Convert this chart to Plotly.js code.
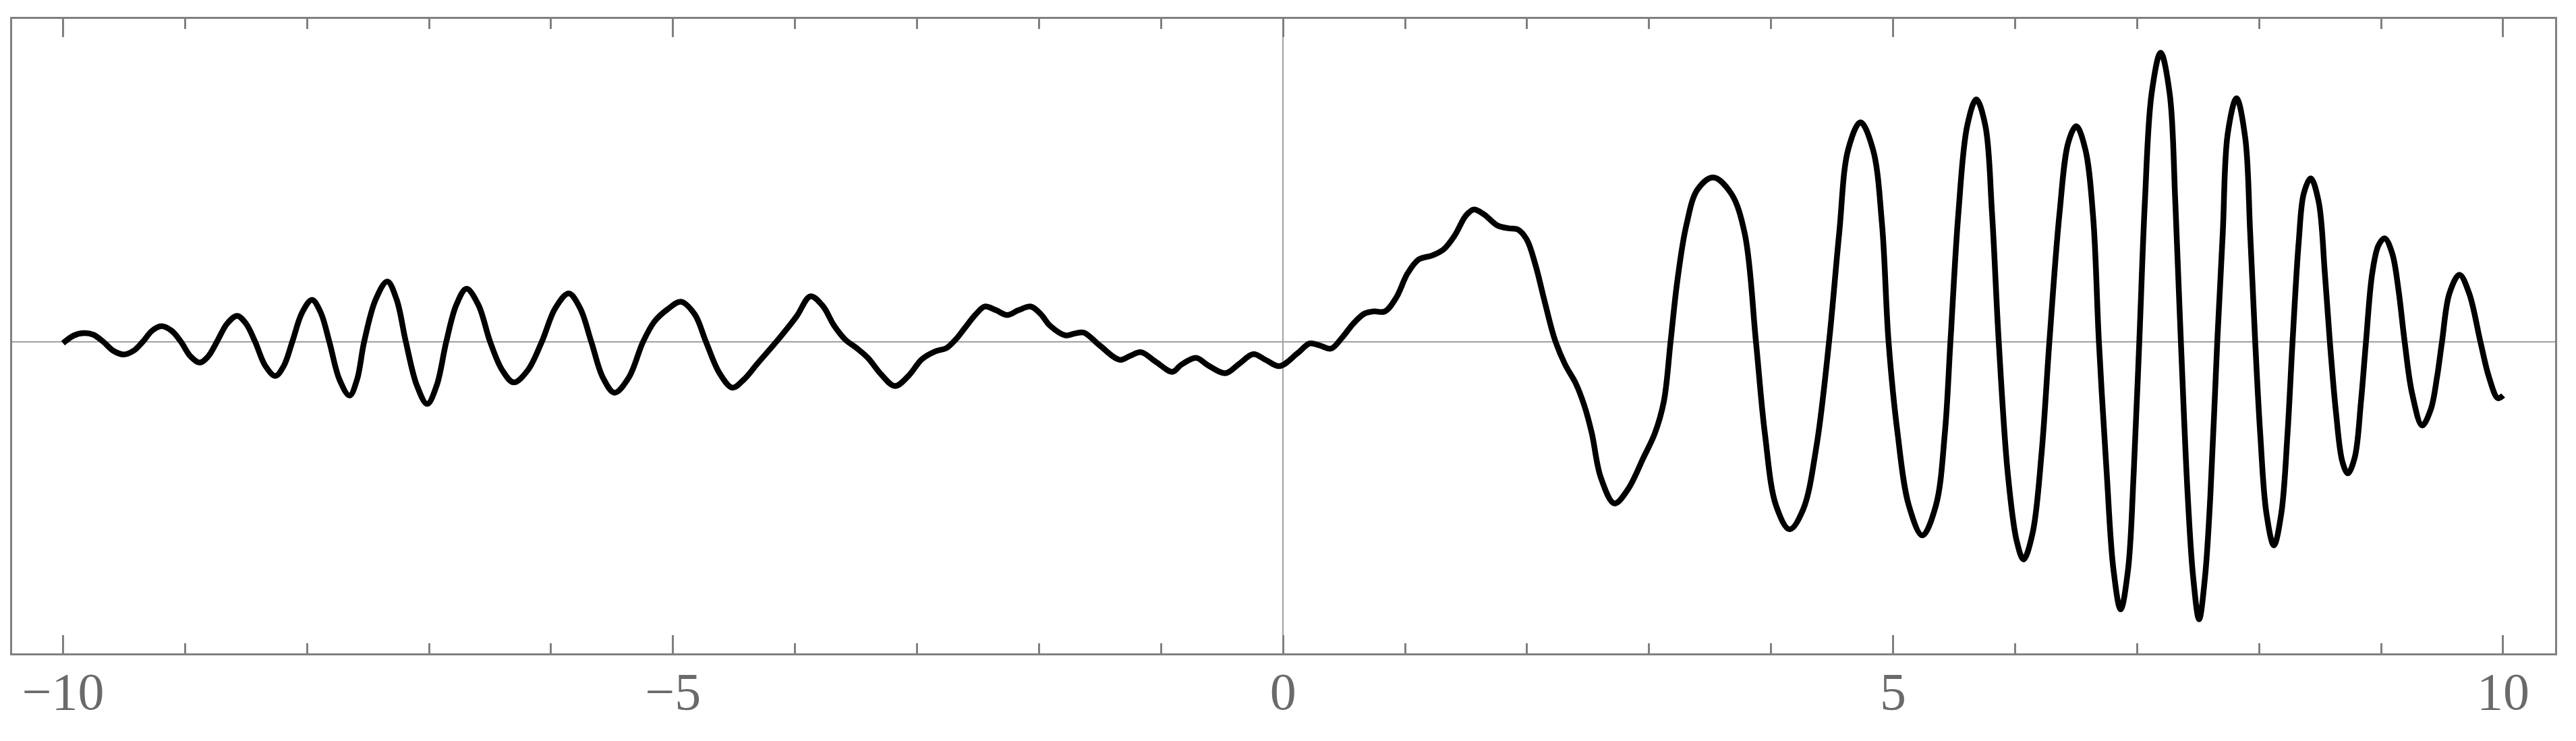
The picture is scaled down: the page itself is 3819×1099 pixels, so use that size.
<!DOCTYPE html>
<html>
<head>
<meta charset="utf-8">
<script src="https://cdn.plot.ly/plotly-3.0.1.min.js"></script>
<style>html,body{margin:0;padding:0;background:#fff;}#chart{width:3819px;height:1099px;}</style>
</head>
<body>
<div id="chart"></div>
<script>
// Curve samples (x in plot units, y in arbitrary units; no y labels shown)
var xLeft = [-10.0,-9.91,-9.826,-9.75,-9.669,-9.59,-9.503,-9.42,-9.347,-9.27,-9.194,-9.11,-9.033,-8.955,-8.88,-8.81,-8.739,-8.655,-8.573,-8.5,-8.425,-8.342,-8.259,-8.19,-8.121,-8.04,-7.959,-7.888,-7.817,-7.734,-7.651,-7.59,-7.532,-7.437,-7.342,-7.266,-7.19,-7.1,-7.015,-6.937,-6.859,-6.776,-6.693,-6.596,-6.499,-6.4,-6.306,-6.19,-6.076,-5.965,-5.855,-5.762,-5.67,-5.575,-5.48,-5.363,-5.246,-5.153,-5.047,-4.935,-4.822,-4.73,-4.619,-4.513,-4.42,-4.307,-4.131,-3.99,-3.873,-3.772,-3.68,-3.588,-3.496,-3.403,-3.293,-3.182,-3.071,-2.96,-2.85,-2.758,-2.684,-2.611,-2.519,-2.445,-2.353,-2.261,-2.169,-2.067,-1.984,-1.911,-1.782,-1.708,-1.634,-1.505,-1.339,-1.253,-1.164,-1.041,-0.906,-0.835,-0.713,-0.614,-0.473,-0.359,-0.243,-0.141,-0.03];
var yLeft = [-0.02,0.095,0.129,0.105,0,-0.13,-0.187,-0.13,0,0.165,0.232,0.165,0,-0.215,-0.307,-0.215,0,0.27,0.386,0.27,0,-0.355,-0.506,-0.355,0,0.435,0.622,0.435,0,-0.56,-0.796,-0.56,0,0.63,0.896,0.63,0,-0.645,-0.921,-0.645,0,0.55,0.788,0.55,0,-0.42,-0.601,-0.42,0,0.5,0.717,0.5,0,-0.53,-0.754,-0.53,0,0.3,0.48,0.595,0.407,0,-0.465,-0.68,-0.56,-0.32,0.05,0.371,0.675,0.531,0.241,0.033,-0.091,-0.237,-0.485,-0.655,-0.506,-0.257,-0.141,-0.091,0.033,0.2,0.407,0.523,0.469,0.398,0.469,0.523,0.407,0.241,0.095,0.124,0.137,-0.05,-0.266,-0.207,-0.154,-0.299,-0.444,-0.34,-0.237,-0.349,-0.465,-0.324,-0.183,-0.27,-0.36];
var xMid = [0.117,0.218,0.301,0.393,0.485,0.577,0.669,0.743,0.835,0.928,1.02,1.112,1.222,1.315,1.407,1.499,1.564,1.646,1.757,1.849,1.923,1.997,2.07,2.144,2.227,2.31,2.4,2.47,2.53,2.604,2.716,2.826,2.955,3.047,3.121,3.176,3.231,3.305,3.397,3.526,3.673,3.784,3.876,3.949,4.041,4.152,4.263,4.373,4.475];
var yMid = [-0.172,-0.024,-0.053,-0.1,0.065,0.273,0.421,0.451,0.451,0.658,1.014,1.222,1.281,1.37,1.578,1.874,1.963,1.892,1.726,1.684,1.667,1.518,1.133,0.599,0.036,-0.33,-0.62,-0.95,-1.35,-2.01,-2.396,-2.19,-1.714,-1.358,-0.884,0,0.896,1.726,2.26,2.438,2.2,1.607,0,-1.358,-2.43,-2.78,-2.485,-1.536,0];
var xRight = [4.558,4.632,4.733,4.835,4.909,4.963,5.037,5.129,5.24,5.351,5.424,5.47,5.535,5.608,5.682,5.756,5.811,5.866,5.94,6.014,6.069,6.143,6.217,6.281,6.364,6.438,6.502,6.576,6.64,6.687,6.751,6.806,6.865,6.926,6.972,7.018,7.064,7.119,7.193,7.267,7.313,7.359,7.414,7.46,7.508,7.556,7.6,7.657,7.702,7.743,7.815,7.886,7.927,7.968,8.009,8.06,8.121,8.182,8.233,8.274,8.325,8.366,8.423,8.488,8.539,8.58,8.631,8.682,8.727,8.784,8.835,8.876,8.927,8.978,9.029,9.091,9.142,9.193,9.254,9.336,9.407,9.458,9.499,9.56,9.642,9.722,9.814,9.885,9.957,10.0];
var yRight = [1.607,2.853,3.256,2.853,1.75,0,-1.358,-2.426,-2.871,-2.426,-1.358,0,1.904,3.209,3.594,3.209,1.904,0,-1.951,-2.96,-3.227,-2.841,-1.655,0,1.904,2.971,3.197,2.853,1.845,0,-1.951,-3.375,-3.968,-3.375,-1.951,0,2.082,3.683,4.288,3.683,2.082,0,-2.25,-3.5,-4.116,-3.5,-2.3,0,1.607,3.09,3.612,3.03,1.607,0,-1.358,-2.544,-3.019,-2.544,-1.358,0,1.489,2.2,2.426,2.08,1.014,0,-1.062,-1.773,-1.951,-1.714,-0.884,0,1.014,1.429,1.536,1.311,0.777,0,-0.765,-1.24,-1.002,-0.528,0,0.718,0.996,0.718,0,-0.528,-0.836,-0.795];

var xMajorTicks = [-10, -5, 0, 5, 10];

var xs = xLeft.concat(xMid, xRight);
var ys = yLeft.concat(yMid, yRight);

var frameColor = '#808080';
var trace = {
  x: xs, y: ys, type: 'scatter', mode: 'lines',
  line: {color: '#000000', width: 8.5, shape: 'spline', smoothing: 1},
  hoverinfo: 'skip'
};
var layout = {
  width: 3819, height: 1099,
  margin: {l: 18, r: 31, t: 28, b: 130, pad: 0},
  paper_bgcolor: '#ffffff', plot_bgcolor: '#ffffff',
  showlegend: false,
  xaxis: {
    range: [-10.417, 10.426],
    tickmode: 'array', tickvals: xMajorTicks,
    ticks: 'inside', ticklen: 27, tickwidth: 3, tickcolor: frameColor,
    showline: true, linecolor: frameColor, linewidth: 3, mirror: 'ticks',
    showgrid: false,
    zeroline: true, zerolinecolor: '#a0a0a0', zerolinewidth: 2,
    tickfont: {family: 'Liberation Serif, Times New Roman, serif', size: 78, color: '#6a6a6a'},
    ticklabelstandoff: -14,
    minor: {tickmode: 'linear', tick0: 0, dtick: 1, ticks: 'inside', ticklen: 15, tickwidth: 3, tickcolor: frameColor, showgrid: false}
  },
  yaxis: {
    range: [-4.62, 4.79],
    showticklabels: false, ticks: '',
    showline: true, linecolor: frameColor, linewidth: 3, mirror: true,
    showgrid: false,
    zeroline: true, zerolinecolor: '#a0a0a0', zerolinewidth: 2
  }
};
Plotly.newPlot('chart', [trace], layout, {staticPlot: true, displayModeBar: false});
</script>
</body>
</html>
